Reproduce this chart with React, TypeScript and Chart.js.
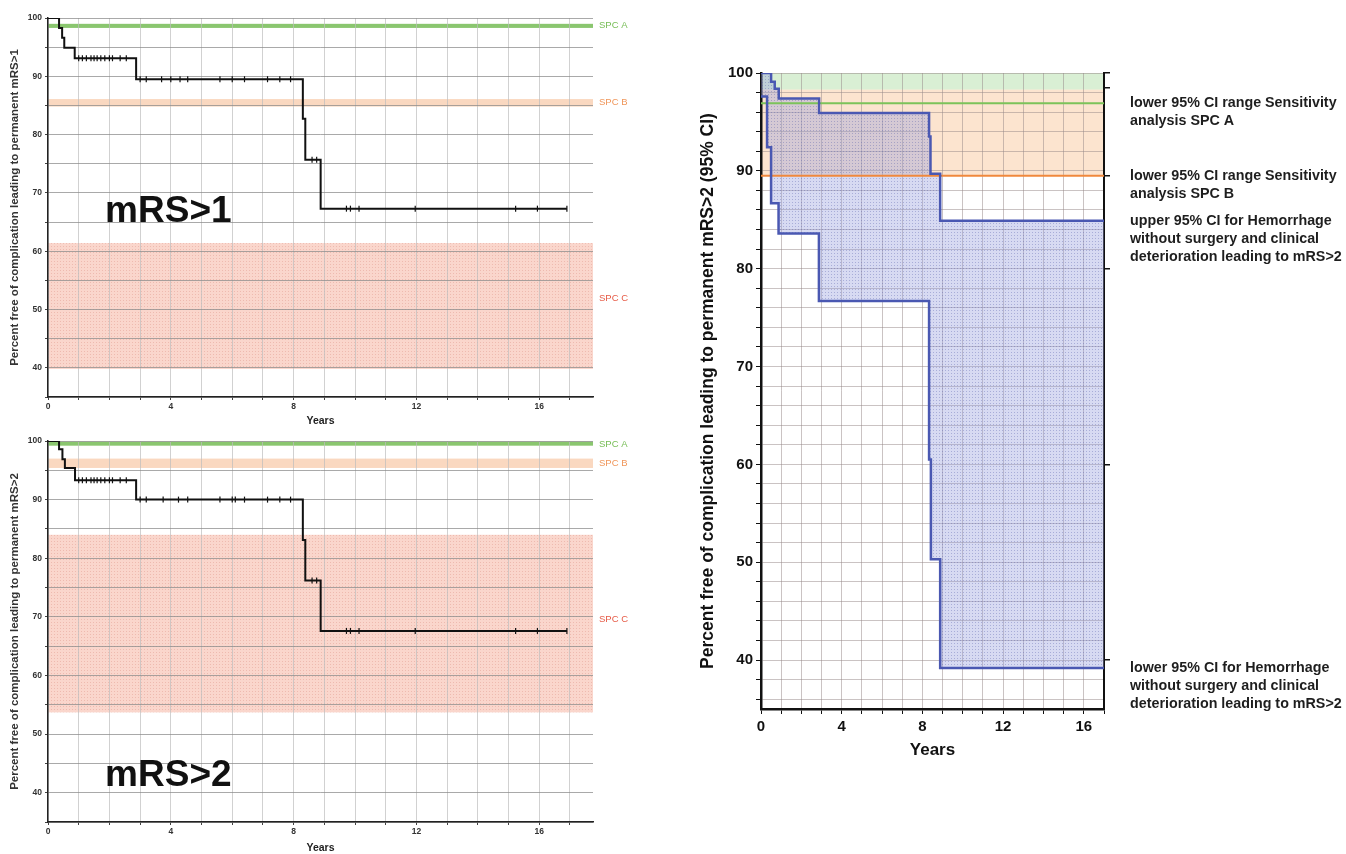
import React, { useEffect, useRef } from "react";
import { Chart, registerables } from "chart.js";
Chart.register(...registerables);

const FONT = "'Liberation Sans', Arial, Helvetica, sans-serif";

// ---------- Panel 1: mRS>1 ----------
const kmA_years = [0, 0.36, 0.46, 0.53, 0.87, 2.87, 8.3, 8.38, 8.88, 16.9];
const kmA_pct = [100, 98.3, 96.6, 94.9, 93.1, 89.5, 82.7, 75.7, 67.3, 67.3];
const censorA_years = [1.0, 1.12, 1.25, 1.4, 1.5, 1.6, 1.72, 1.85, 2.0, 2.1, 2.35, 2.55, 3.0, 3.2, 3.7, 4.0, 4.3, 4.55, 5.6, 6.0, 6.4, 7.15, 7.55, 7.9, 8.6, 8.75, 9.72, 9.85, 10.13, 11.96, 15.23, 15.94, 16.9];
const spcA_low = [98.3, 84.8, 39.8];
const spcA_high = [99.0, 86.1, 61.4];
const spcA_labelY = [98.65, 85.45, 52];

// ---------- Panel 2: mRS>2 ----------
const kmB_years = [0, 0.36, 0.47, 0.55, 0.88, 2.87, 8.3, 8.38, 8.88, 16.9];
const kmB_pct = [100, 98.6, 96.9, 95.4, 93.3, 90.0, 83.1, 76.2, 67.6, 67.6];
const censorB_years = [1.0, 1.12, 1.25, 1.4, 1.5, 1.6, 1.72, 1.85, 2.0, 2.1, 2.35, 2.55, 3.0, 3.2, 3.75, 4.25, 4.55, 5.6, 6.0, 6.1, 6.4, 7.15, 7.55, 7.9, 8.6, 8.75, 9.72, 9.85, 10.13, 11.96, 15.23, 15.94, 16.9];
const spcB_low = [99.2, 95.4, 53.7];
const spcB_high = [99.9, 97.0, 84.0];
const spcB_labelY = [99.5, 96.2, 69.5];

const spcNames = ["SPC A", "SPC B", "SPC C"];

// ---------- Panel 3: 95% CI ----------
const ciUpper_years = [0, 0.5, 0.68, 0.88, 2.88, 8.33, 8.4, 8.88, 17];
const ciUpper_pct = [100, 99.1, 98.4, 97.4, 95.9, 93.5, 89.7, 84.9, 84.9];
const ciLower_years = [0, 0.3, 0.5, 0.87, 2.87, 8.33, 8.42, 8.88, 17];
const ciLower_pct = [97.6, 92.4, 86.7, 83.6, 76.7, 60.5, 50.3, 39.2, 39.2];
const sensBand_low = [98.3, 89.5];
const sensBand_high = [100, 98.3];
const sensLineA = 96.9;
const sensLineB = 89.5;
const rightAxisMarks = [40, 60, 80, 89.5, 98.5, 100];
const annotationAnchors = [96.9, 89.5, 84.9, 39.2];
const annotationTexts = [
  ["lower 95% CI range Sensitivity", "analysis SPC A"],
  ["lower 95% CI range Sensitivity", "analysis SPC B"],
  ["upper 95% CI for Hemorrhage", "without surgery and clinical", "deterioration leading to mRS>2"],
  ["lower 95% CI for Hemorrhage", "without surgery and clinical", "deterioration leading to mRS>2"],
];

// ---------- tick positions ----------
function range(a: number, b: number, s: number) {
  const r: number[] = [];
  for (let v = a; v <= b + 1e-9; v += s) r.push(Math.round(v * 1000) / 1000);
  return r;
}
const leftXTicks = range(0, 17, 1);
const leftYTicks = range(35, 100, 5);
const rightXTicks = range(0, 17, 1);
const rightYTicks = range(36, 100, 2);

function stepValue(xs: number[], ys: number[], x: number) {
  let v = ys[0];
  for (let i = 0; i < xs.length; i++) if (xs[i] <= x) v = ys[i];
  return v;
}

function makePattern(ctx: CanvasRenderingContext2D, base: string, dot: string, size = 3) {
  const c = document.createElement("canvas");
  c.width = size;
  c.height = size;
  const g = c.getContext("2d")!;
  g.fillStyle = base;
  g.fillRect(0, 0, size, size);
  g.fillStyle = dot;
  g.fillRect(0, 0, 1, 1);
  return ctx.createPattern(c, "repeat")!;
}

const spcTextColors = ["#76bd55", "#f0965a", "#e65a46"];

function leftConfig(ctx: CanvasRenderingContext2D, p: any) {
  const bandFills = [
    "rgba(125,192,95,0.9)",
    "rgba(246,190,150,0.6)",
    makePattern(ctx, "rgba(248,196,182,0.7)", "rgba(225,150,140,0.45)"),
  ];
  const plugin = {
    id: "bands" + p.id,
    beforeDraw(chart: any) {
      const { ctx: c, chartArea: ca, scales } = chart;
      const y = scales.y;
      c.save();
      p.low.forEach((lo: number, i: number) => {
        const y1 = y.getPixelForValue(p.high[i]);
        const y2 = y.getPixelForValue(lo);
        c.fillStyle = bandFills[i];
        c.fillRect(ca.left, y1, ca.right - ca.left, y2 - y1);
      });
      c.restore();
    },
    afterDraw(chart: any) {
      const { ctx: c, chartArea: ca, scales } = chart;
      c.save();
      c.font = `9.5px ${FONT}`;
      c.textBaseline = "middle";
      c.textAlign = "left";
      spcNames.forEach((n, i) => {
        c.fillStyle = spcTextColors[i];
        c.fillText(n, ca.right + 6, scales.y.getPixelForValue(p.labelY[i]));
      });
      c.font = `bold 37px ${FONT}`;
      c.fillStyle = "#111";
      c.textBaseline = "alphabetic";
      c.fillText(p.big, scales.x.getPixelForValue(p.bigX), scales.y.getPixelForValue(p.bigY));
      c.restore();
    },
  };
  return {
    type: "line",
    data: {
      datasets: [
        {
          data: p.censor.map((x: number) => ({ x, y: stepValue(p.kmX, p.kmY, x) })),
          showLine: false,
          pointStyle: "line",
          pointRotation: 90,
          pointRadius: 3,
          pointBorderColor: "#111",
          pointBorderWidth: 1.2,
          borderColor: "#111",
        },
        {
          data: p.kmX.map((x: number, i: number) => ({ x, y: p.kmY[i] })),
          stepped: "before",
          borderColor: "#111",
          borderWidth: 2,
          pointRadius: 0,
          fill: false,
        },
      ],
    },
    options: {
      responsive: false,
      animation: false,
      layout: { padding: { top: p.padTop, right: 47, left: 0, bottom: 0 } },
      plugins: { legend: { display: false }, tooltip: { enabled: false } },
      scales: {
        x: {
          type: "linear",
          min: 0,
          max: 17.75,
          afterBuildTicks: (s: any) => {
            s.ticks = leftXTicks.map((v) => ({ value: v }));
          },
          afterFit: (s: any) => {
            s.height = p.xHeight;
          },
          ticks: {
            autoSkip: false,
            maxRotation: 0,
            padding: 2,
            color: "#333",
            font: { size: 8.5, weight: "bold", family: FONT },
            callback: (v: any) => (v % 4 === 0 ? String(v) : ""),
          },
          grid: { color: "rgba(190,190,190,0.7)", tickColor: "#444", tickLength: 3, lineWidth: 1 },
          border: { color: "#222", width: 1.5 },
          title: { display: true, text: "Years", color: "#222", padding: 0, font: { size: 10.5, weight: "bold", family: FONT } },
        },
        y: {
          type: "linear",
          min: 35,
          max: 100,
          afterBuildTicks: (s: any) => {
            s.ticks = leftYTicks.map((v) => ({ value: v }));
          },
          afterFit: (s: any) => {
            s.width = 48;
          },
          ticks: {
            autoSkip: false,
            padding: 3,
            color: "#333",
            font: { size: 8.5, weight: "bold", family: FONT },
            callback: (v: any) => (v % 10 === 0 && v >= 40 ? String(v) : ""),
          },
          grid: { color: "rgba(140,140,140,0.75)", tickColor: "#444", tickLength: 3, lineWidth: 1 },
          border: { color: "#222", width: 1.5 },
          title: { display: true, text: p.yTitle, color: "#333", padding: { top: 8, bottom: 0 }, font: { size: 11.5, weight: "bold", family: FONT } },
        },
      },
    },
    plugins: [plugin],
  };
}

function rightConfig(ctx: CanvasRenderingContext2D) {
  const blueFill = makePattern(ctx, "rgba(150,158,222,0.38)", "rgba(80,90,170,0.35)");
  const bandFills = ["rgba(170,220,160,0.45)", "rgba(248,190,140,0.42)"];
  const plugin = {
    id: "rightBands",
    beforeDraw(chart: any) {
      const { ctx: c, chartArea: ca, scales } = chart;
      c.save();
      sensBand_low.forEach((lo, i) => {
        const y1 = scales.y.getPixelForValue(sensBand_high[i]);
        const y2 = scales.y.getPixelForValue(lo);
        c.fillStyle = bandFills[i];
        c.fillRect(ca.left, y1, ca.right - ca.left, y2 - y1);
      });
      c.restore();
    },
    afterDraw(chart: any) {
      const { ctx: c, chartArea: ca, scales } = chart;
      c.save();
      c.font = `bold 14.3px ${FONT}`;
      c.fillStyle = "#1e1e1e";
      c.textAlign = "left";
      c.textBaseline = "middle";
      annotationTexts.forEach((lines, i) => {
        const y0 = scales.y.getPixelForValue(annotationAnchors[i]);
        lines.forEach((t, j) => c.fillText(t, ca.right + 26, y0 + j * 18));
      });
      c.restore();
    },
  };
  const gridColor = "rgba(150,135,135,0.5)";
  return {
    type: "line",
    data: {
      datasets: [
        {
          data: ciUpper_years.map((x, i) => ({ x, y: ciUpper_pct[i] })),
          stepped: "before",
          borderColor: "#4a58b2",
          borderWidth: 2.5,
          pointRadius: 0,
          fill: "+1",
          backgroundColor: blueFill,
        },
        {
          data: ciLower_years.map((x, i) => ({ x, y: ciLower_pct[i] })),
          stepped: "before",
          borderColor: "#4a58b2",
          borderWidth: 2.5,
          pointRadius: 0,
          fill: false,
        },
        {
          data: [{ x: 0, y: sensLineA }, { x: 17, y: sensLineA }],
          borderColor: "#7cc35a",
          borderWidth: 2,
          pointRadius: 0,
          fill: false,
        },
        {
          data: [{ x: 0, y: sensLineB }, { x: 17, y: sensLineB }],
          borderColor: "#f0883c",
          borderWidth: 2,
          pointRadius: 0,
          fill: false,
        },
      ],
    },
    options: {
      responsive: false,
      animation: false,
      layout: { padding: { top: 33, right: 234, left: 0, bottom: 0 } },
      plugins: { legend: { display: false }, tooltip: { enabled: false }, filler: { drawTime: "beforeDatasetsDraw" } },
      scales: {
        x: {
          type: "linear",
          min: 0,
          max: 17,
          afterBuildTicks: (s: any) => {
            s.ticks = rightXTicks.map((v) => ({ value: v }));
          },
          afterFit: (s: any) => {
            s.height = 52;
          },
          ticks: {
            autoSkip: false,
            maxRotation: 0,
            padding: 4,
            color: "#111",
            font: { size: 15, weight: "bold", family: FONT },
            callback: (v: any) => (v % 4 === 0 ? String(v) : ""),
          },
          grid: { color: gridColor, tickColor: "#111", tickLength: 5, lineWidth: 1 },
          border: { color: "#111", width: 2.5 },
          title: { display: true, text: "Years", color: "#111", padding: 0, font: { size: 17, weight: "bold", family: FONT } },
        },
        y: {
          type: "linear",
          min: 35,
          max: 100,
          afterBuildTicks: (s: any) => {
            s.ticks = rightYTicks.map((v) => ({ value: v }));
          },
          afterFit: (s: any) => {
            s.width = 71;
          },
          ticks: {
            autoSkip: false,
            padding: 3,
            color: "#111",
            font: { size: 15, weight: "bold", family: FONT },
            callback: (v: any) => (v % 10 === 0 ? String(v) : ""),
          },
          grid: { color: gridColor, tickColor: "#111", tickLength: 5, lineWidth: 1 },
          border: { color: "#111", width: 2.5 },
          title: {
            display: true,
            text: "Percent free of complication leading to permanent mRS>2 (95% CI)",
            color: "#111",
            padding: { top: 8, bottom: 0 },
            font: { size: 17.5, weight: "bold", family: FONT },
          },
        },
        y2: {
          type: "linear",
          position: "right",
          min: 35,
          max: 100,
          afterBuildTicks: (s: any) => {
            s.ticks = rightAxisMarks.map((v) => ({ value: v }));
          },
          afterFit: (s: any) => {
            s.width = 8;
          },
          ticks: { display: false },
          grid: { drawOnChartArea: false, tickColor: "#111", tickLength: 6, lineWidth: 1.5 },
          border: { color: "#111", width: 2 },
        },
      },
    },
    plugins: [plugin],
  };
}

export default function App() {
  const c1 = useRef<HTMLCanvasElement>(null);
  const c2 = useRef<HTMLCanvasElement>(null);
  const c3 = useRef<HTMLCanvasElement>(null);

  useEffect(() => {
    Chart.defaults.font.family = FONT;
    const charts: Chart[] = [];
    const ctx1 = c1.current!.getContext("2d")!;
    const ctx2 = c2.current!.getContext("2d")!;
    const ctx3 = c3.current!.getContext("2d")!;
    charts.push(
      new Chart(
        ctx1,
        leftConfig(ctx1, {
          id: "A",
          kmX: kmA_years,
          kmY: kmA_pct,
          censor: censorA_years,
          low: spcA_low,
          high: spcA_high,
          labelY: spcA_labelY,
          big: "mRS>1",
          bigX: 1.86,
          bigY: 65,
          padTop: 18,
          xHeight: 30,
          yTitle: "Percent free of complication leading to permanent mRS>1",
        }) as any
      )
    );
    charts.push(
      new Chart(
        ctx2,
        leftConfig(ctx2, {
          id: "B",
          kmX: kmB_years,
          kmY: kmB_pct,
          censor: censorB_years,
          low: spcB_low,
          high: spcB_high,
          labelY: spcB_labelY,
          big: "mRS>2",
          bigX: 1.86,
          bigY: 41.2,
          padTop: 11,
          xHeight: 32,
          yTitle: "Percent free of complication leading to permanent mRS>2",
        }) as any
      )
    );
    charts.push(new Chart(ctx3, rightConfig(ctx3) as any));
    return () => charts.forEach((c) => c.destroy());
  }, []);

  return (
    <div style={{ position: "fixed", left: 0, top: 0, width: 1346, height: 854, background: "#fff", overflow: "hidden" }}>
      <canvas ref={c1} width={640} height={427} style={{ position: "absolute", left: 0, top: 0, width: 640, height: 427 }} />
      <canvas ref={c2} width={640} height={424} style={{ position: "absolute", left: 0, top: 430, width: 640, height: 424 }} />
      <canvas ref={c3} width={656} height={721} style={{ position: "absolute", left: 690, top: 40, width: 656, height: 721 }} />
    </div>
  );
}
